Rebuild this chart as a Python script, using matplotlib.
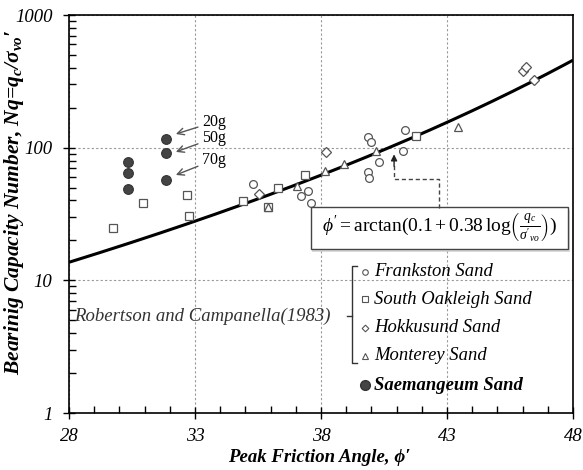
import numpy as np
import matplotlib
matplotlib.use("Agg")
import matplotlib.pyplot as plt
from matplotlib.ticker import FixedLocator, NullFormatter, LogLocator
from matplotlib.patches import Rectangle

plt.rcParams["font.family"] = ["Liberation Serif", "DejaVu Serif"]
plt.rcParams["mathtext.fontset"] = "custom"
plt.rcParams["mathtext.rm"] = "Liberation Serif"
plt.rcParams["mathtext.it"] = "Liberation Serif:italic"
plt.rcParams["mathtext.bf"] = "Liberation Serif:bold"
plt.rcParams["mathtext.bfit"] = "Liberation Serif:italic:bold"

# Robertson and Campanella (1983) data sets
frankston_phi = [35.3, 37.5, 37.2, 37.6, 39.85, 40.0, 40.3, 39.85, 39.9, 41.35, 41.25]
frankston_nq = [53, 47.5, 43, 38, 121, 110, 78, 66, 59, 137, 94]

oakleigh_phi = [29.75, 30.95, 32.7, 32.75, 34.9, 35.9, 36.3, 37.35, 41.75]
oakleigh_nq = [25, 38, 44, 30.5, 39.5, 35.5, 49.5, 62.5, 122]

hokkusund_phi = [35.55, 38.2, 46.0, 46.15, 46.45]
hokkusund_nq = [45, 93, 378, 407, 323]

monterey_phi = [35.9, 37.05, 38.15, 38.9, 40.2, 43.45]
monterey_nq = [35.5, 51.5, 66.5, 75, 95, 143]

# Saemangeum sand (centrifuge tests)
saemangeum_phi = [31.85, 31.85, 31.85, 30.35, 30.35, 30.35]
saemangeum_nq = [116, 91, 57, 78, 64, 49]
g_labels = ["20g", "50g", "70g"]

# Correlation: phi' = arctan(0.1 + 0.38 log(qc/sigma'vo))
coef_a, coef_b = 0.1, 0.38
phi_curve = np.linspace(28, 48, 200)
nq_curve = 10 ** ((np.tan(np.radians(phi_curve)) - coef_a) / coef_b)

fig = plt.figure(figsize=(5.83, 4.70), dpi=100)
ax = fig.add_axes([69 / 583, 57 / 470, 504 / 583, 398 / 470])

ax.set_xlim(28, 48)
ax.set_ylim(1, 1000)
ax.set_yscale("log")

ax.plot(phi_curve, nq_curve, color="black", lw=2.2, zorder=3, solid_capstyle="butt")

edge = "#555555"
ms = 5.6
ax.plot(frankston_phi, frankston_nq, "o", ms=ms, mfc="white", mec=edge, mew=0.9, ls="none", zorder=4)
ax.plot(oakleigh_phi, oakleigh_nq, "s", ms=ms, mfc="white", mec=edge, mew=0.9, ls="none", zorder=4)
ax.plot(hokkusund_phi, hokkusund_nq, "D", ms=ms - 0.8, mfc="white", mec=edge, mew=0.9, ls="none", zorder=4)
ax.plot(monterey_phi, monterey_nq, "^", ms=ms, mfc="white", mec=edge, mew=0.9, ls="none", zorder=4)
ax.plot(saemangeum_phi, saemangeum_nq, "o", ms=7.0, mfc="#444444", mec="#333333", mew=0.8, ls="none", zorder=5)

# g-level labels with arrows
label_y = [0.731, 0.691, 0.636]
head_y = [0.701, 0.656, 0.598]
for lab, ty, hy in zip(g_labels, label_y, head_y):
    ax.annotate(lab, xy=(0.212, hy), xytext=(0.264, ty), xycoords="axes fraction",
                textcoords="axes fraction", fontsize=11.5, va="center", ha="left",
                arrowprops=dict(arrowstyle="->", color="#555555", lw=1.0,
                                shrinkA=1, shrinkB=0, mutation_scale=12))

# axes styling
for s in ax.spines.values():
    s.set_color("black")
    s.set_linewidth(1.2)

ax.xaxis.set_major_locator(FixedLocator([28, 33, 38, 43, 48]))
ax.xaxis.set_minor_locator(FixedLocator(np.arange(28, 49, 1)))
ax.yaxis.set_major_locator(LogLocator(base=10, numticks=10))
ax.yaxis.set_minor_locator(LogLocator(base=10, subs=np.arange(2, 10), numticks=20))
ax.yaxis.set_minor_formatter(NullFormatter())
ax.set_yticks([1, 10, 100, 1000])
ax.set_yticklabels(["1", "10", "100", "1000"])
ax.tick_params(which="major", direction="inout", length=8, width=1.0, color="black",
               labelsize=13.5, top=False, right=False)
ax.tick_params(which="minor", direction="in", length=5, width=1.0, color="black",
               top=False, right=False)
ax.tick_params(axis="x", which="major", pad=7)
ax.tick_params(axis="y", which="major", pad=8)
for t in ax.get_xticklabels() + ax.get_yticklabels():
    t.set_fontstyle("italic")

ax.grid(True, which="major", color="#999999", ls=(0, (2, 2)), lw=0.8)
ax.set_axisbelow(True)

ax.set_xlabel("Peak Friction Angle, ϕ′", fontsize=13.5, fontweight="bold", fontstyle="italic",
              family=["Liberation Serif", "DejaVu Serif"])
ax.xaxis.set_label_coords(0.496, -0.090)
ax.set_ylabel(r"Bearinig Capacity Number, Nq=q$_\mathbfit{c}$/σ$_\mathbfit{vo}$′", fontsize=15.5,
              fontweight="bold", fontstyle="italic", family=["Liberation Serif", "DejaVu Serif"])
ax.yaxis.set_label_coords(-0.085, 0.53)

# correlation equation box with dashed pointer
shadow = Rectangle((0.483, 0.405), 0.511, 0.106, transform=ax.transAxes,
                   facecolor="#cccccc", edgecolor="none", zorder=5, alpha=0.7)
box = Rectangle((0.480, 0.411), 0.511, 0.106, transform=ax.transAxes,
                facecolor="white", edgecolor="#444444", lw=1.0, zorder=6)
ax.add_patch(shadow)
ax.add_patch(box)
ax.text(0.735, 0.464,
        r"$\phi' = \mathrm{arctan}(0.1 + 0.38\,\mathrm{log}\left(\frac{q_c}{\sigma'_{vo}}\right))$",
        transform=ax.transAxes, ha="center", va="center", fontsize=14, zorder=7)

ax.plot([0.734, 0.734, 0.645, 0.645], [0.515, 0.587, 0.587, 0.625], transform=ax.transAxes,
        color="#444444", lw=1.0, ls=(0, (3, 2)), zorder=6, clip_on=False)
ax.annotate("", xy=(0.645, 0.650), xytext=(0.645, 0.620), xycoords="axes fraction",
            arrowprops=dict(arrowstyle="-|>", color="#222222", lw=1.0, mutation_scale=9,
                            shrinkA=0, shrinkB=0), zorder=6)

# legend with bracket
leg_mx, leg_tx = 0.587, 0.605
leg_items = [("o", "Frankston Sand", 0.355), ("s", "South Oakleigh Sand", 0.286),
             ("D", "Hokkusund Sand", 0.214), ("^", "Monterey Sand", 0.144)]
for mk, name, yy in leg_items:
    ax.plot([leg_mx], [yy], mk, ms=4.0 if mk != "D" else 3.4, mfc="white", mec=edge, mew=0.8,
            transform=ax.transAxes, zorder=7)
    ax.text(leg_tx, yy, name, transform=ax.transAxes, fontsize=13.4, fontstyle="italic",
            va="center", ha="left", zorder=7)
ax.plot([leg_mx], [0.070], "o", ms=7.0, mfc="#444444", mec="#333333", transform=ax.transAxes, zorder=7)
ax.text(leg_tx, 0.070, "Saemangeum Sand", transform=ax.transAxes, fontsize=13.4,
        fontstyle="italic", fontweight="bold", va="center", ha="left", zorder=7)

ax.plot([0.572, 0.561, 0.561, 0.572], [0.369, 0.369, 0.126, 0.126], transform=ax.transAxes,
        color="#333333", lw=1.0, zorder=7)
ax.plot([0.552, 0.561], [0.244, 0.244], transform=ax.transAxes, color="#333333", lw=1.0, zorder=7)
ax.text(0.520, 0.244, "Robertson and Campanella(1983)", transform=ax.transAxes, fontsize=13.5,
        fontstyle="italic", ha="right", va="center", color="#333333", zorder=7)

fig.savefig("out.png", dpi=100)
